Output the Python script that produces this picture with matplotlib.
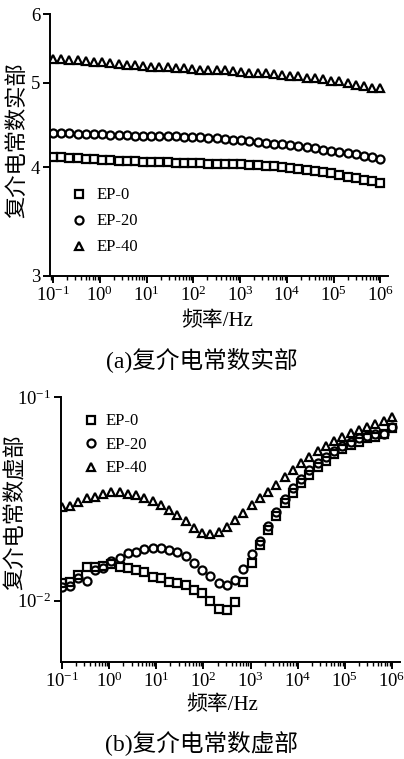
import numpy as np
import matplotlib
matplotlib.use("Agg")
import matplotlib.pyplot as plt
from matplotlib.ticker import FixedLocator, FuncFormatter, NullLocator, LogLocator

plt.rcParams['font.family'] = ['Liberation Serif', 'Noto Sans CJK SC']
plt.rcParams['mathtext.fontset'] = 'custom'
plt.rcParams['mathtext.rm'] = 'Liberation Serif'

# frequency (Hz), ~5.7 points per decade
freq = [0.1, 0.1496, 0.2239, 0.335, 0.5012, 0.7499, 1.122, 1.679, 2.512, 3.758,
        5.623, 8.414, 12.59, 18.84, 28.18, 42.17, 63.1, 94.41, 141.3, 211.3,
        316.2, 473.2, 707.9, 1059, 1585, 2371, 3548, 5309, 7943, 11885,
        17783, 26607, 39811, 59566, 89125, 133352, 199526, 298538, 446684, 668344,
        1000000]

labels = ["EP-0", "EP-20", "EP-40"]

# (a) real part
real_ep0 = [4.11, 4.11, 4.10, 4.10, 4.09, 4.09, 4.08, 4.08, 4.07, 4.07,
            4.07, 4.06, 4.06, 4.06, 4.06, 4.05, 4.05, 4.05, 4.05, 4.04,
            4.04, 4.04, 4.03, 4.03, 4.02, 4.02, 4.01, 4.01, 4.00, 3.99,
            3.98, 3.97, 3.96, 3.95, 3.94, 3.92, 3.90, 3.89, 3.87, 3.86,
            3.84]
real_ep20 = [4.38, 4.38, 4.38, 4.37, 4.37, 4.37, 4.37, 4.36, 4.36, 4.36,
             4.35, 4.35, 4.35, 4.34, 4.34, 4.34, 4.33, 4.33, 4.33, 4.32,
             4.32, 4.31, 4.30, 4.30, 4.29, 4.28, 4.27, 4.26, 4.25, 4.24,
             4.23, 4.22, 4.21, 4.19, 4.18, 4.17, 4.15, 4.14, 4.12, 4.11,
             4.09]
real_ep40 = [5.33, 5.33, 5.32, 5.31, 5.30, 5.29, 5.28, 5.27, 5.26, 5.25,
             5.24, 5.23, 5.22, 5.22, 5.21, 5.20, 5.20, 5.19, 5.18, 5.18,
             5.17, 5.17, 5.16, 5.15, 5.14, 5.14, 5.13, 5.12, 5.11, 5.10,
             5.09, 5.07, 5.06, 5.05, 5.03, 5.02, 5.00, 4.98, 4.96, 4.94,
             4.93]

# (b) imaginary part
imag_ep0 = [0.0122, 0.0124, 0.0134, 0.0146, 0.0147, 0.0148, 0.0151, 0.0146, 0.0145, 0.0141,
            0.0139, 0.0131, 0.0130, 0.0124, 0.0122, 0.0120, 0.0113, 0.0109, 0.00993, 0.0091,
            0.0090, 0.0099, 0.0124, 0.0154, 0.0188, 0.0223, 0.0261, 0.0301, 0.0337, 0.0378,
            0.0415, 0.0452, 0.0488, 0.0526, 0.0556, 0.0582, 0.0604, 0.0631, 0.0640, 0.0660,
            0.0702]
imag_ep20 = [0.01167, 0.0118, 0.0129, 0.0125, 0.0141, 0.01445, 0.0156, 0.0163, 0.0171, 0.0173,
             0.0180, 0.0181, 0.0181, 0.0178, 0.0173, 0.0165, 0.0154, 0.0142, 0.01316, 0.0122,
             0.0120, 0.0126, 0.0143, 0.0169, 0.0197, 0.0234, 0.0272, 0.0315, 0.0356, 0.0395,
             0.0438, 0.0473, 0.0506, 0.0543, 0.0576, 0.0604, 0.0627, 0.0644, 0.0659, 0.0662,
             0.0710]
imag_ep40 = [0.0290, 0.0293, 0.0307, 0.0319, 0.0324, 0.0335, 0.0341, 0.0341, 0.0336, 0.0331,
             0.0320, 0.0310, 0.0296, 0.0279, 0.0264, 0.0245, 0.0227, 0.0215, 0.0213, 0.0217,
             0.0231, 0.0248, 0.0271, 0.0296, 0.0319, 0.0341, 0.0371, 0.0404, 0.0439, 0.0476,
             0.0509, 0.0545, 0.0577, 0.0611, 0.0639, 0.0664, 0.0689, 0.0710, 0.0734, 0.0765,
             0.0800]

markers = ['s', 'o', '^']
msizes = [5.2, 5.8, 6.3]


def pow10(v, pos):
    return r'$\mathrm{10^{%d}}$' % int(round(np.log10(v)))


def style_axes(ax):
    for s in ['top', 'right']:
        ax.spines[s].set_visible(False)
    for s in ['left', 'bottom']:
        ax.spines[s].set_linewidth(1.4)
    ax.set_xscale('log')
    ax.xaxis.set_major_locator(FixedLocator([10.0 ** e for e in range(-1, 7)]))
    ax.xaxis.set_major_formatter(FuncFormatter(pow10))
    ax.xaxis.set_minor_locator(LogLocator(base=10, subs=np.arange(2, 10), numticks=20))
    ax.tick_params(axis='both', which='major', direction='out', length=5, width=1.4,
                   labelsize=13.5, pad=2)
    ax.tick_params(axis='x', which='minor', direction='out', length=3, width=1.0)
    ax.yaxis.set_minor_locator(NullLocator())


fig = plt.figure(figsize=(4.04, 7.59), dpi=100)

# ---- (a) ----
ax1 = fig.add_axes([0.124, 0.6364, 0.837, 0.345])
series_a = [real_ep0, real_ep20, real_ep40]
for i in range(3):
    ax1.plot(freq, series_a[i], linestyle='none', marker=markers[i], ms=msizes[i],
             mfc='none', mec='black', mew=1.6, label=labels[i])
style_axes(ax1)
ax1.set_yscale('log')
ax1.set_ylim(3, 6)
ax1.set_xlim(10 ** -1.064, 10 ** 6.171)
ax1.yaxis.set_major_locator(FixedLocator([3, 4, 5, 6]))
ax1.yaxis.set_major_formatter(FuncFormatter(lambda v, p: '%d' % round(v)))
ax1.yaxis.set_minor_locator(NullLocator())
ax1.set_xlabel('频率/Hz', fontsize=15)
ax1.xaxis.set_label_coords(0.494, -0.135)
ax1.set_ylabel('复介电常数实部', fontsize=16)
ax1.yaxis.set_label_coords(-0.065, 0.52)
ax1.legend(loc='upper left', bbox_to_anchor=(0.035, 0.37), frameon=False, fontsize=12,
           handlelength=1.0, handletextpad=0.6, labelspacing=0.6, borderpad=0)

# ---- (b) ----
ax2 = fig.add_axes([0.151, 0.1278, 0.839, 0.349])
series_b = [imag_ep0, imag_ep20, imag_ep40]
for i in range(3):
    ax2.plot(freq, series_b[i], linestyle='none', marker=markers[i], ms=msizes[i],
             mfc='none', mec='black', mew=1.6, label=labels[i])
style_axes(ax2)
ax2.set_yscale('log')
ax2.set_ylim(0.005, 0.1)
ax2.set_xlim(10 ** -1.021, 10 ** 6.17)
ax2.yaxis.set_major_locator(FixedLocator([0.01, 0.1]))
ax2.yaxis.set_major_formatter(FuncFormatter(pow10))
ax2.yaxis.set_minor_locator(NullLocator())
ax2.set_xlabel('频率/Hz', fontsize=15)
ax2.xaxis.set_label_coords(0.475, -0.125)
ax2.set_ylabel('复介电常数虚部', fontsize=16)
ax2.yaxis.set_label_coords(-0.1, 0.566)
ax2.legend(loc='upper left', bbox_to_anchor=(0.04, 0.97), frameon=False, fontsize=12,
           handlelength=1.0, handletextpad=0.35, labelspacing=0.45, borderpad=0)

fig.text(0.5, 1 - 360 / 759, '(a)复介电常数实部', ha='center', va='center', fontsize=17)
fig.text(0.5, 1 - 743 / 759, '(b)复介电常数虚部', ha='center', va='center', fontsize=17)

fig.savefig('out.png', dpi=100)
